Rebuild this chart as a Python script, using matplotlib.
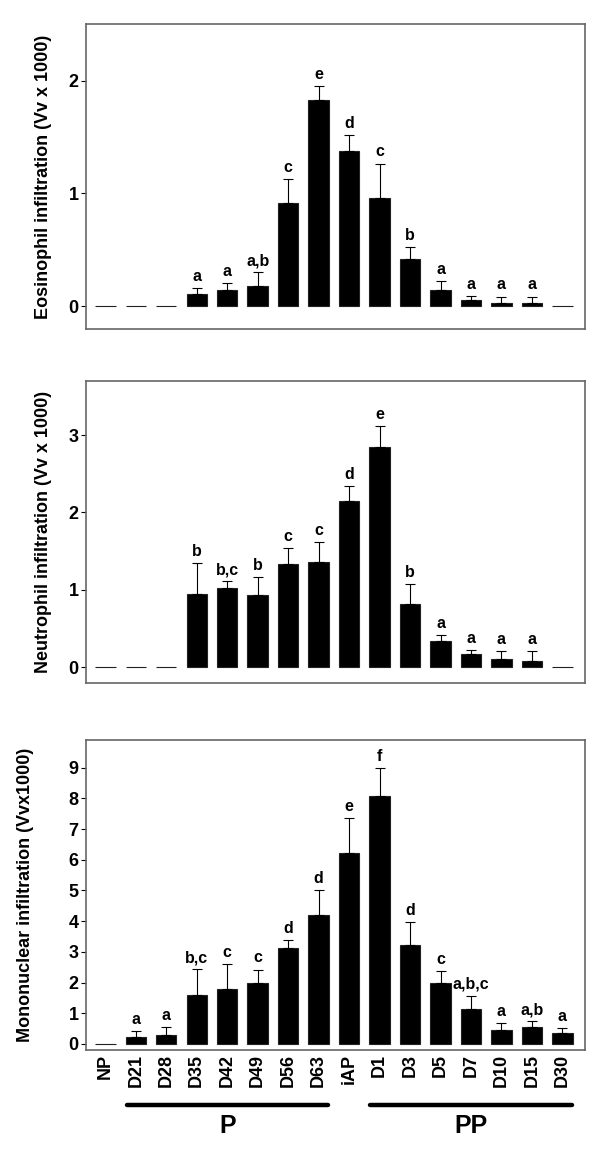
import numpy as np
import matplotlib.pyplot as plt
import matplotlib.transforms as mtransforms

plt.rcParams['font.family'] = ['Liberation Sans', 'DejaVu Sans']
plt.rcParams['font.weight'] = 'bold'

### DATA
groups = ['NP', 'D21', 'D28', 'D35', 'D42', 'D49', 'D56', 'D63', 'iAP',
          'D1', 'D3', 'D5', 'D7', 'D10', 'D15', 'D30']

eos_mean = [0, 0, 0, 0.107, 0.143, 0.18, 0.916, 1.83, 1.38, 0.955, 0.415,
            0.143, 0.05, 0.03, 0.03, 0]
eos_sem = [0, 0, 0, 0.05, 0.06, 0.12, 0.21, 0.12, 0.14, 0.31, 0.105,
           0.08, 0.04, 0.053, 0.053, 0]
eos_sig = ['', '', '', 'a', 'a', 'a,b', 'c', 'e', 'd', 'c', 'b',
           'a', 'a', 'a', 'a', '']

neu_mean = [0, 0, 0, 0.94, 1.03, 0.93, 1.33, 1.365, 2.15, 2.84, 0.82,
            0.34, 0.17, 0.107, 0.077, 0]
neu_sem = [0, 0, 0, 0.41, 0.08, 0.23, 0.21, 0.255, 0.19, 0.28, 0.25,
           0.08, 0.05, 0.1, 0.13, 0]
neu_sig = ['', '', '', 'b', 'b,c', 'b', 'c', 'c', 'd', 'e', 'b',
           'a', 'a', 'a', 'a', '']

mono_mean = [0, 0.24, 0.30, 1.59, 1.78, 2.0, 3.12, 4.19, 6.23, 8.09, 3.23,
             2.0, 1.15, 0.445, 0.56, 0.34]
mono_sem = [0, 0.18, 0.24, 0.84, 0.82, 0.42, 0.25, 0.83, 1.12, 0.91, 0.75,
            0.36, 0.42, 0.235, 0.17, 0.18]
mono_sig = ['', 'a', 'a', 'b,c', 'c', 'c', 'd', 'd', 'e', 'f', 'd',
            'c', 'a,b,c', 'a', 'a,b', 'a']

# period groups under the x axis
periods = [('P', 'D21', 'D63'), ('PP', 'D1', 'D30')]

panels = [
    (eos_mean, eos_sem, eos_sig, 'Eosinophil infiltration (Vv x 1000)',
     (-0.2, 2.5), [0, 1, 2], -0.068),
    (neu_mean, neu_sem, neu_sig, 'Neutrophil infiltration (Vv x 1000)',
     (-0.2, 3.7), [0, 1, 2, 3], -0.068),
    (mono_mean, mono_sem, mono_sig, 'Mononuclear infiltration (Vvx1000)',
     (-0.2, 9.9), list(range(10)), -0.104),
]
rects = [[0.143, 0.718, 0.832, 0.261],
         [0.143, 0.414, 0.832, 0.259],
         [0.143, 0.0987, 0.832, 0.266]]

fig = plt.figure(figsize=(6, 11.65), dpi=100)
x = np.arange(len(groups))

for k, (mean, sem, sig, label, ylim, yticks, labx) in enumerate(panels):
    ax = fig.add_axes(rects[k])
    mean = np.asarray(mean)
    sem = np.asarray(sem)
    ax.bar(x, mean, width=0.67, color='black', edgecolor='#222222', linewidth=0.8)
    has = sem > 0
    ax.errorbar(x[has], mean[has], yerr=[np.zeros(has.sum()), sem[has]],
                fmt='none', ecolor='black', elinewidth=0.8, capsize=3.5,
                capthick=0.8)
    for i in range(len(groups)):
        if sig[i]:
            ax.annotate(sig[i], (x[i], mean[i] + sem[i]), xytext=(0, 3),
                        textcoords='offset points', ha='center', va='bottom',
                        fontsize=11.5, fontweight='bold')
    ax.set_xlim(-0.64, 15.74)
    ax.set_ylim(*ylim)
    ax.set_yticks(yticks)
    ax.tick_params(axis='y', labelsize=13, length=3.6, width=0.8, pad=1.5)
    ax.set_ylabel(label, fontsize=13, fontweight='bold')
    ax.yaxis.set_label_coords(labx, 0.5)
    for s in ax.spines.values():
        s.set_color('#666666')
        s.set_linewidth(1.2)
    if k < 2:
        ax.set_xticks([])
    else:
        ax.set_xticks(x)
        ax.set_xticklabels(groups, rotation=90, fontsize=13, fontweight='bold')
        ax.tick_params(axis='x', length=0, pad=3)
        trans = mtransforms.blended_transform_factory(ax.transData, ax.transAxes)
        for name, g0, g1 in periods:
            i0 = groups.index(g0)
            i1 = groups.index(g1)
            ax.plot([i0 - 0.3, i1 + 0.3], [-0.177, -0.177], transform=trans,
                    color='black', lw=3.2, solid_capstyle='round', clip_on=False)
            ax.text((i0 + i1) / 2, -0.245, name, transform=trans, ha='center',
                    va='center', fontsize=18, fontweight='bold')

fig.savefig('out.png', dpi=100)
